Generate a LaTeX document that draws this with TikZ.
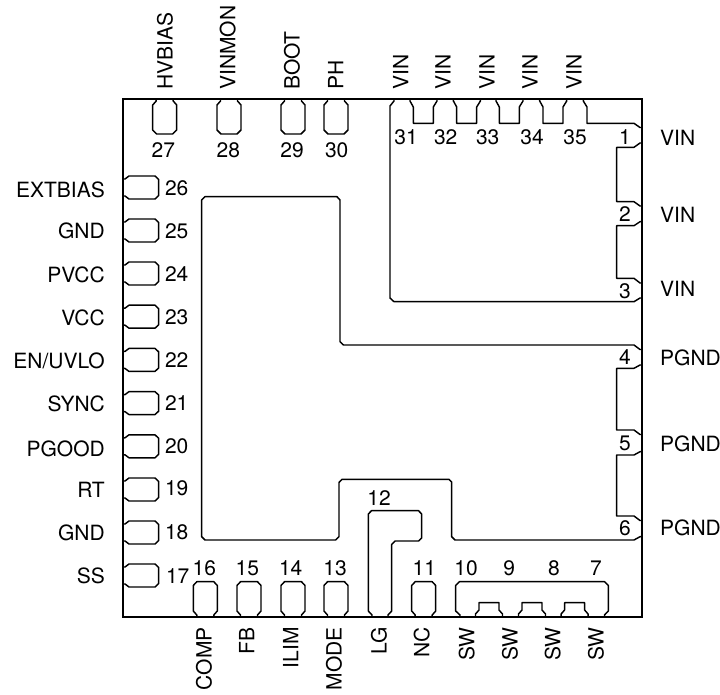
\documentclass[tikz,border=0pt]{standalone}
\usepackage{fontspec}
\setmainfont{TeX Gyre Heros}

\begin{document}
\begin{tikzpicture}
  [x=1pt,y=-1pt,pad/.style={line width=1.45pt,line join=round},
  every node/.style={font=\fontsize{21}{21}\selectfont,inner sep=0pt,text height=15.1pt,text depth=0pt}]
  \useasboundingbox (0,0) rectangle (720,694);
  \draw[line width=1.7pt] (123,99) rectangle (642,617);
  \foreach \x in {152.7,217,281,324}
    \draw[pad] (\x+3.5,99) -- (\x+3.5,101) -- (\x,105) -- (\x,130) -- (\x+4,134) -- (\x+20,134)
      -- (\x+24,130) -- (\x+24,105) -- (\x+20.5,101) -- (\x+20.5,99);
  \foreach \x in {193.3,237,281,324,411.7}
    \draw[pad] (\x+3.5,617) -- (\x+3.5,615) -- (\x,611) -- (\x,585.5) -- (\x+3.5,581.7) -- (\x+20.5,581.7)
      -- (\x+24,585.5) -- (\x+24,611) -- (\x+20.5,615) -- (\x+20.5,617);
  \foreach \y in {176,219,262,305.2,348.4,391.6,434.8,478,521,564}
    \draw[pad] (123,\y+3) -- (125,\y+3) -- (129,\y) -- (155,\y) -- (158.7,\y+3.5) -- (158.7,\y+19.5)
      -- (155,\y+23) -- (129,\y+23) -- (125,\y+20) -- (123,\y+20);
  \draw[pad] (394,99) -- (394,101) -- (390,106) -- (390,298) -- (394,301.7) -- (634,301.7) -- (640,298) -- (642,298);
  \draw[pad] (583.3,99) -- (583.3,101) -- (587,107) -- (587,123.3) -- (634,123.3) -- (640,127.5) -- (642,127.5);
  \foreach \x in {413.3,456.7,499.3,543}
    \draw[pad] (\x-3.3,99) -- (\x-3.3,101) -- (\x,107) -- (\x,123.3) -- (\x+20,123.3) -- (\x+20,107)
      -- (\x+23.7,101) -- (\x+23.7,99);
  \foreach \a/\b/\c/\d in {143/147.3/201.7/206,221.7/225.7/278.3/283,365/368.3/430/434.5,451.7/455/516/520.5}
    \draw[pad] (642,\a) -- (640,\a) -- (634,\b) -- (616.7,\b) -- (616.7,\c) -- (634,\c) -- (640,\d) -- (642,\d);
  \draw[pad] (642,349.5) -- (640,349.5) -- (634,345) -- (343.5,345) -- (340,341.7) -- (340,200) -- (337,196.7)
    -- (205,196.7) -- (201.7,200) -- (201.7,536.7) -- (205,540) -- (335.5,540) -- (339,536.7) -- (339,482.5)
    -- (342,479.3) -- (449,479.3) -- (451.7,482) -- (451.7,536.7) -- (455,540) -- (634,540) -- (640,536.7) -- (642,536.7);
  \draw[pad] (372,617) -- (372,615) -- (368.3,611) -- (368.3,514) -- (371.5,510.7) -- (418.5,510.7) -- (421.7,514)
    -- (421.7,538) -- (418.5,541) -- (395,541) -- (391.7,544.5) -- (391.7,611) -- (388,615) -- (388,617);
  \draw[pad] (460,617) -- (460,615) -- (455.7,611) -- (455.7,585.5) -- (459.5,581.7) -- (604.5,581.7)
    -- (608.3,585.5) -- (608.3,611) -- (604.5,615) -- (604.5,617);
  \foreach \x in {479,522,564.6}
    \draw[pad] (\x-3.5,617) -- (\x-3.5,614) -- (\x,610) -- (\x,602.7) -- (\x+20,602.7) -- (\x+20,610)
      -- (\x+23.5,614) -- (\x+23.5,617);
  \foreach \n/\x/\y in {1/625/137,2/625/214,3/625/290.7,4/625/356.7,5/625/443.3,6/625/528,
      7/596/568.3,8/554/568.3,9/509.3/568.3,10/466/568.3,11/424.3/568.3,12/379/497.7,
      13/335/568.3,14/290.7/568.3,15/247.3/568.3,16/204.3/568.3,17/177.7/575.7,18/176.7/532.3,
      19/176.7/488.3,20/176.7/446,21/176.7/403,22/176.7/360,23/176.7/317,24/176.7/274,
      25/176.7/231,26/176.7/187.7,27/163.3/150,28/228.3/150,29/292/150,30/336.7/150,
      31/406/137,32/445.7/137,33/487.7/137,34/532/137,35/575/137}
    \node (n\n) at (\x,\y) {\n};
  \foreach \name/\lab/\y in {r1/VIN/138,r2/VIN/215,r3/VIN/289,r4/PGND/358,r5/PGND/444,r6/PGND/528}
    \node[anchor=west] (\name) at (660,\y) {\lab};
  \foreach \name/\lab/\y in {l26/EXTBIAS/190,l25/GND/231,l24/PVCC/275,l23/VCC/318,l22/EN\slash UVLO/361,
      l21/SYNC/404,l20/PGOOD/449,l19/RT/490,l18/GND/533,l17/SS/576}
    \node[anchor=east] (\name) at (105,\y) {\lab};
  \foreach \name/\lab/\x in {t27/HVBIAS/165,t28/VINMON/227.7,t29/BOOT/292,t30/PH/335.7,t31/VIN/400.7,
      t32/VIN/443,t33/VIN/487,t34/VIN/530,t35/VIN/574}
    \node[rotate=90,anchor=west] (\name) at (\x,90) {\lab};
  \foreach \name/\lab/\x in {b16/COMP/204,b15/FB/246.7,b14/ILIM/290.7,b13/MODE/334,b12/LG/379,b11/NC/421.7,
      b10/SW/466.7,b9/SW/510,b8/SW/552.7,b7/SW/596}
    \node[rotate=90,anchor=east] (\name) at (\x,627) {\lab};
\end{tikzpicture}
\end{document}
